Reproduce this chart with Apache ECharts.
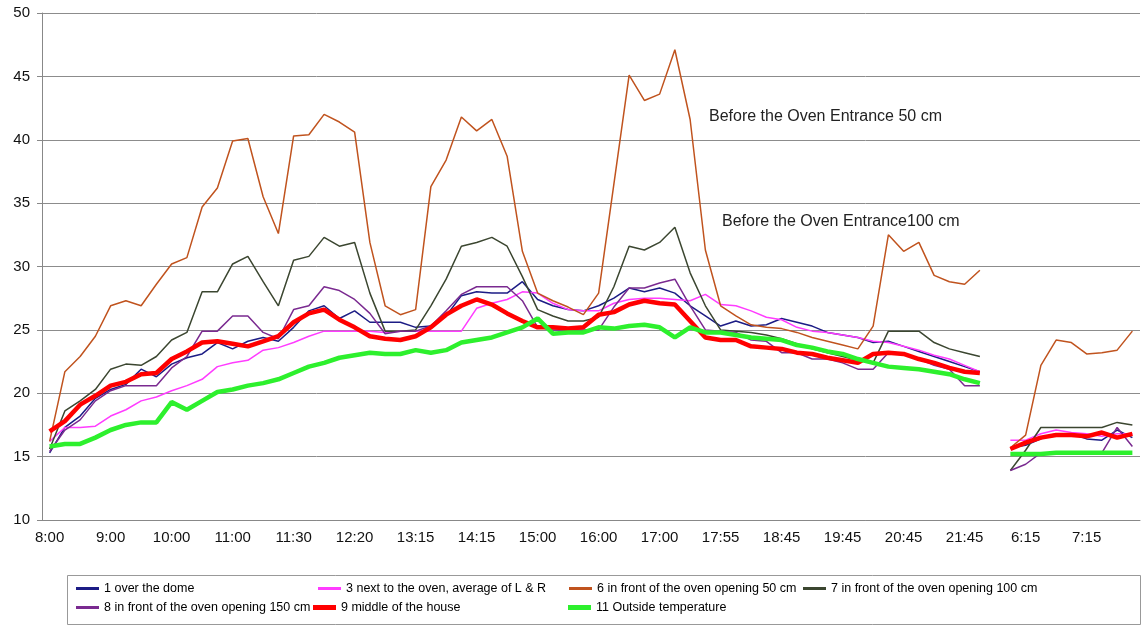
<!DOCTYPE html>
<html>
<head>
<meta charset="utf-8">
<script src="https://cdn.jsdelivr.net/npm/echarts@6/dist/echarts.min.js"></script>
<style>
html,body{margin:0;padding:0;background:#fff;}
#c{width:1141px;height:627px;}
</style>
</head>
<body>
<div id="c"></div>
<script>
const tickLabels = ["8:00","9:00","10:00","11:00","11:30","12:20","13:15","14:15","15:00","16:00","17:00","17:55","18:45","19:45","20:45","21:45","6:15","7:15"];
const labelEvery = 4;
const pointCount = 72;

const overDome = [15.3,17.3,18.2,19.6,20.3,20.7,21.9,21.3,22.3,22.8,23.1,24.0,23.5,24.1,24.4,24.1,25.2,26.5,26.9,25.9,26.5,25.6,25.6,25.6,25.2,25.3,26.1,27.7,28.0,27.9,27.9,28.8,27.4,26.9,26.6,26.5,26.9,27.5,28.3,28.0,28.3,27.9,26.9,26.1,25.3,25.7,25.3,25.4,25.9,25.6,25.3,24.8,24.6,24.4,24.0,24.1,23.7,23.3,22.9,22.5,22.1,21.7,null,15.7,15.9,16.4,16.8,16.8,16.4,16.3,17.1,16.5];
const nextToOven = [16.2,17.3,17.3,17.4,18.2,18.7,19.4,19.7,20.2,20.6,21.1,22.1,22.4,22.6,23.4,23.6,24.0,24.5,24.9,24.9,24.9,24.9,24.8,24.9,24.9,24.9,24.9,24.9,26.7,27.1,27.4,28.0,27.9,27.1,26.6,26.5,26.5,27.1,27.4,27.5,27.5,27.4,27.3,27.8,27.0,26.9,26.5,26.0,25.8,25.2,24.9,24.8,24.6,24.4,24.1,24.0,23.7,23.4,23.0,22.7,22.2,21.7,null,16.3,16.3,16.8,17.1,16.9,16.8,16.6,16.8,16.8];
const front50 = [16.2,21.7,22.9,24.5,26.9,27.3,26.9,28.6,30.2,30.7,34.7,36.2,39.9,40.1,35.5,32.6,40.3,40.4,42.0,41.4,40.6,31.9,26.9,26.2,26.6,36.3,38.4,41.8,40.7,41.6,38.7,31.2,27.9,27.3,26.8,26.2,27.9,36.5,45.1,43.1,43.6,47.1,41.6,31.3,26.9,26.1,25.4,25.2,25.1,24.8,24.4,24.1,23.8,23.5,25.3,32.5,31.2,31.9,29.3,28.8,28.6,29.7,null,15.7,16.7,22.2,24.2,24.0,23.1,23.2,23.4,24.9];
const front100 = [15.6,18.6,19.4,20.3,21.9,22.3,22.2,22.9,24.2,24.8,28.0,28.0,30.2,30.8,28.8,26.9,30.5,30.8,32.3,31.6,31.9,27.9,24.9,24.9,25.0,26.9,29.0,31.6,31.9,32.3,31.6,29.2,26.6,26.1,25.7,25.7,26.0,28.4,31.6,31.3,31.9,33.1,29.5,26.9,25.0,24.9,24.8,24.6,24.3,23.9,23.5,23.2,22.9,22.6,22.4,24.9,24.9,24.9,24.0,23.5,23.2,22.9,null,13.9,15.5,17.3,17.3,17.3,17.3,17.3,17.7,17.5];
const front150 = [15.4,17.1,17.9,19.4,20.2,20.6,20.6,20.6,22.0,22.9,24.9,24.9,26.1,26.1,24.8,24.3,26.6,26.9,28.4,28.1,27.4,26.3,24.7,24.9,24.9,25.3,26.5,27.8,28.4,28.4,28.4,27.3,25.2,25.0,25.0,25.0,25.0,26.8,28.3,28.3,28.7,29.0,26.9,25.0,24.9,24.8,24.2,24.1,23.2,23.2,22.7,22.7,22.4,21.9,21.9,23.2,23.1,22.7,22.2,21.9,20.6,20.6,null,13.9,14.4,15.3,15.3,15.3,15.3,15.3,17.3,15.8];
const middleHouse = [17.0,17.8,19.1,19.8,20.6,20.9,21.5,21.6,22.7,23.3,24.0,24.1,23.9,23.7,24.1,24.5,25.6,26.3,26.6,25.8,25.2,24.5,24.3,24.2,24.5,25.2,26.2,26.9,27.4,27.0,26.3,25.7,25.2,25.2,25.1,25.2,26.2,26.4,27.0,27.3,27.1,27.0,25.7,24.4,24.2,24.2,23.7,23.6,23.5,23.2,23.1,22.8,22.6,22.4,23.1,23.2,23.1,22.7,22.4,22.0,21.7,21.6,null,15.6,16.1,16.5,16.7,16.7,16.6,16.9,16.5,16.8];
const outside = [15.8,16.0,16.0,16.5,17.1,17.5,17.7,17.7,19.3,18.7,19.4,20.1,20.3,20.6,20.8,21.1,21.6,22.1,22.4,22.8,23.0,23.2,23.1,23.1,23.4,23.2,23.4,24.0,24.2,24.4,24.8,25.2,25.9,24.7,24.8,24.8,25.2,25.1,25.3,25.4,25.2,24.4,25.2,24.8,24.8,24.6,24.4,24.3,24.2,23.8,23.6,23.3,23.1,22.7,22.4,22.1,22.0,21.9,21.7,21.5,21.1,20.8,null,15.2,15.2,15.2,15.3,15.3,15.3,15.3,15.3,15.3];

const seriesNames = ["1 over the dome","3 next to the oven, average of L & R","6 in front of the oven opening 50 cm","7 in front of the oven opening 100 cm","8 in front of the oven opening 150 cm","9 middle of the house","11 Outside temperature"];
const seriesValues = [overDome, nextToOven, front50, front100, front150, middleHouse, outside];
const annotations = ["Before the Oven Entrance 50 cm","Before the Oven Entrance100 cm"];

const categories = [];
for (let i = 0; i < pointCount; i++) {
  categories.push(i % labelEvery === 0 ? tickLabels[i / labelEvery] : '');
}

const colors = ['#1c1c85','#ff3cff','#c0531e','#3b4630','#7a2a90','#ff0000','#2df02d'];
const widths = [1.5,1.5,1.5,1.5,1.5,4.5,4.5];
const font = "'Liberation Sans', Arial, sans-serif";

const legendPos = [
  {left: 76, top: 582},
  {left: 318, top: 582},
  {left: 569, top: 582},
  {left: 803, top: 582},
  {left: 76, top: 601},
  {left: 313, top: 601},
  {left: 568, top: 601}
];

const chart = echarts.init(document.getElementById('c'), null, {renderer: 'canvas'});
chart.setOption({
  animation: false,
  backgroundColor: '#ffffff',
  color: colors,
  grid: {left: 42, top: 13, width: 1098, height: 507, containLabel: false},
  xAxis: {
    type: 'category',
    data: categories,
    boundaryGap: true,
    axisLine: {show: true, lineStyle: {color: '#888', width: 1}},
    axisTick: {show: false},
    axisLabel: {interval: labelEvery - 1, color: '#111', fontSize: 15, fontFamily: font, margin: 10},
    splitLine: {show: false}
  },
  yAxis: {
    type: 'value',
    min: 10, max: 50, interval: 5,
    axisLine: {show: true, lineStyle: {color: '#888', width: 1}},
    axisTick: {show: true, length: 5, lineStyle: {color: '#888'}},
    axisLabel: {color: '#111', fontSize: 15, fontFamily: font, margin: 12},
    splitLine: {show: true, lineStyle: {color: '#8c8c8c', width: 1}}
  },
  legend: legendPos.map((p, k) => ({
    left: p.left, top: p.top, padding: 0, itemGap: 0, itemTextGap: 4,
    icon: 'rect', itemWidth: 23, itemHeight: widths[k] > 3 ? 5 : 3,
    data: [seriesNames[k]],
    textStyle: {fontSize: 12.5, fontFamily: font, color: '#000'}
  })),
  graphic: [
    {type: 'rect', left: 65, top: 573, shape: {width: 1073, height: 49}, style: {fill: 'none', stroke: '#999', lineWidth: 1}, z: 0},
    {type: 'text', left: 709, top: 109, style: {text: annotations[0], fontSize: 16, fontFamily: font, fill: '#222'}},
    {type: 'text', left: 722, top: 214, style: {text: annotations[1], fontSize: 16, fontFamily: font, fill: '#222'}}
  ],
  series: seriesNames.map((n, k) => ({
    name: n, type: 'line', data: seriesValues[k], symbol: 'none', connectNulls: false,
    lineStyle: {width: widths[k], color: colors[k]}, itemStyle: {color: colors[k]},
    z: 2 + k
  }))
});
</script>
</body>
</html>
